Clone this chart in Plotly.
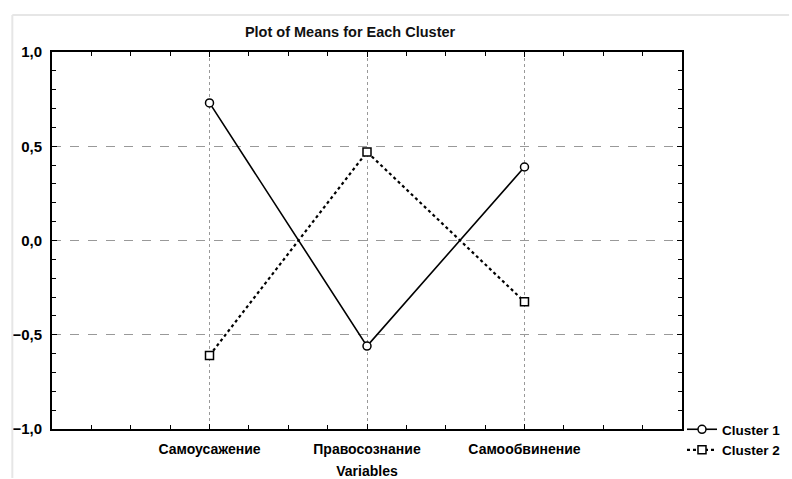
import plotly.graph_objects as go

categories = ["Самоусажение", "Правосознание", "Самообвинение"]
cluster1 = [0.73, -0.56, 0.39]
cluster2 = [-0.61, 0.47, -0.325]
series_names = ["Cluster 1", "Cluster 2"]
y_ticks = [-1.0, -0.5, 0.0, 0.5, 1.0]

xpos = list(range(1, len(categories) + 1))

fig = go.Figure()
fig.add_trace(go.Scatter(
    x=xpos, y=cluster1, name=series_names[0], mode="lines+markers",
    line=dict(color="black", width=1.6),
    marker=dict(symbol="circle", size=8, color="white", line=dict(color="black", width=1.5)),
))
fig.add_trace(go.Scatter(
    x=xpos, y=cluster2, name=series_names[1], mode="lines+markers",
    line=dict(color="black", width=2.2, dash="dot"),
    marker=dict(symbol="square", size=8, color="white", line=dict(color="black", width=1.5)),
))

font_family = "Liberation Sans, Arial, sans-serif"

fig.update_layout(
    width=792, height=479,
    margin=dict(l=52, r=107, t=52, b=50),
    paper_bgcolor="white", plot_bgcolor="white",
    separators=", ",
    font=dict(family=font_family, size=13, color="black"),
    title=dict(text="<b>Plot of Means for Each Cluster</b>", x=0.442, xanchor="center",
               y=0.933, yanchor="middle", font=dict(size=14.5, color="#111")),
    showlegend=True,
    legend=dict(xref="container", yref="container", x=0.8611, xanchor="left",
                y=0.1357, yanchor="top", bgcolor="rgba(0,0,0,0)",
                font=dict(size=13.5, weight="bold"), itemwidth=30, tracegroupgap=0),
    shapes=[dict(type="line", xref="paper", yref="paper", x0=-0.063, x1=1.17, y0=1.098, y1=1.098,
                 line=dict(color="#e6e6e6", width=2)),
            dict(type="line", xref="paper", yref="paper", x0=-0.063, x1=-0.063, y0=-0.13, y1=1.098,
                 line=dict(color="#e6e6e6", width=2))],
)
fig.update_xaxes(
    range=[0, len(categories) + 1], tickvals=xpos, ticktext=categories,
    showline=True, linecolor="black", linewidth=2, mirror="ticks",
    ticks="inside", ticklen=5, tickcolor="black", tickwidth=1,
    showgrid=True, gridcolor="#999", griddash="dot", gridwidth=1,
    minor=dict(dtick=0.25, tick0=0, ticks="inside", ticklen=4, tickcolor="black", showgrid=False),
    zeroline=False, automargin=False,
    tickfont=dict(size=14, weight="bold"), ticklabelstandoff=6,
    title=dict(text="Variables", font=dict(size=14, weight="bold"), standoff=10),
)
fig.update_yaxes(
    range=[-1, 1], tickvals=y_ticks, tickformat=".1f",
    showline=True, linecolor="black", linewidth=2, mirror="ticks",
    ticks="inside", ticklen=5, tickcolor="black", tickwidth=1,
    showgrid=True, gridcolor="#999", griddash="dash", gridwidth=1,
    minor=dict(dtick=0.1, tick0=0, ticks="inside", ticklen=4, tickcolor="black", showgrid=False),
    zeroline=False, automargin=False,
    tickfont=dict(size=15, weight="bold"), ticklabelstandoff=5,
)

fig.write_html("out.html", config={"displayModeBar": False},
               post_script="document.body.style.margin='0';")
